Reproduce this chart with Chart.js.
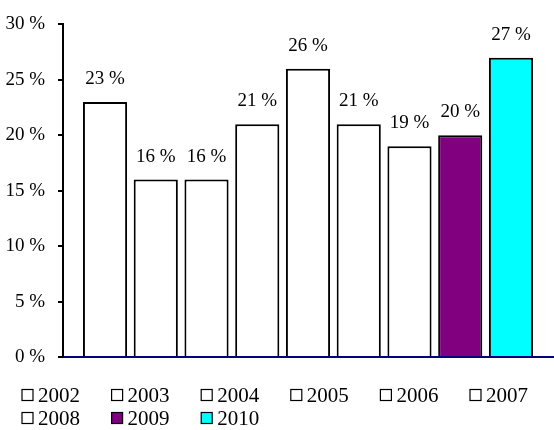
<!DOCTYPE html>
<html>
<head>
<meta charset="utf-8">
<script src="https://cdn.jsdelivr.net/npm/chart.js@4"></script>
<style>
  html, body { margin: 0; padding: 0; background: #fff; }
  #wrap { width: 554px; height: 430px; }
</style>
</head>
<body>
<div id="wrap"><canvas id="barChart" width="554" height="430"></canvas></div>
<script>
// Valores
const years = ['2002', '2003', '2004', '2005', '2006', '2007', '2008', '2009', '2010'];
const values = [23, 16, 16, 21, 26, 21, 19, 20, 27];
const barColors = ['#FFFFFF', '#FFFFFF', '#FFFFFF', '#FFFFFF', '#FFFFFF', '#FFFFFF', '#FFFFFF', '#800080', '#00FFFF'];
const yTicks = [0, 5, 10, 15, 20, 25, 30];

const FONT = '"Liberation Serif", "Times New Roman", serif';

// Rótulos de valor acima das barras
const valueLabels = {
    id: 'valueLabels',
    afterDatasetsDraw(chart) {
        const ctx = chart.ctx;
        ctx.save();
        ctx.font = '19px ' + FONT;
        ctx.fillStyle = '#000';
        ctx.textAlign = 'center';
        ctx.textBaseline = 'middle';
        chart.data.datasets.forEach(function(ds, i) {
            const bar = chart.getDatasetMeta(i).data[0];
            ctx.fillText(ds.data[0] + ' %', bar.x, bar.y - 23);
        });
        ctx.restore();
    }
};

// Legenda em grade, estilo Excel
const gridLegend = {
    id: 'gridLegend',
    afterDraw(chart) {
        const ctx = chart.ctx;
        ctx.save();
        ctx.font = '21px ' + FONT;
        ctx.textBaseline = 'middle';
        ctx.textAlign = 'left';
        chart.data.datasets.forEach(function(ds, i) {
            const col = i % 6;
            const row = Math.floor(i / 6);
            const x = 22 + col * 89.6;
            const y = 395 + row * 23;
            ctx.fillStyle = ds.backgroundColor;
            ctx.fillRect(x, y - 5.5, 11, 11);
            ctx.strokeStyle = '#000';
            ctx.lineWidth = 1.2;
            ctx.strokeRect(x, y - 5.5, 11, 11);
            ctx.fillStyle = '#000';
            ctx.fillText(ds.label, x + 16, y + 1);
        });
        ctx.restore();
    }
};

document.addEventListener('DOMContentLoaded', function() {
    const ctx = document.getElementById('barChart').getContext('2d');
    new Chart(ctx, {
        type: 'bar',
        data: {
            labels: [''],
            datasets: years.map(function(y, i) {
                return {
                    label: y,
                    data: [values[i]],
                    backgroundColor: barColors[i],
                    borderColor: '#000',
                    borderWidth: 2,
                    borderSkipped: 'bottom',
                    barPercentage: 0.87,
                    categoryPercentage: 0.932
                };
            })
        },
        options: {
            responsive: false,
            animation: false,
            layout: {
                padding: { top: 20, right: 1, bottom: 73, left: 0 }
            },
            plugins: {
                legend: { display: false },
                tooltip: { enabled: false }
            },
            scales: {
                x: {
                    ticks: { display: false },
                    grid: { display: false },
                    border: { color: '#000080', width: 2 },
                    afterFit: function(s) { s.height = 0; }
                },
                y: {
                    min: yTicks[0],
                    max: yTicks[yTicks.length - 1],
                    afterBuildTicks: function(s) {
                        s.ticks = yTicks.map(function(v) { return { value: v }; });
                    },
                    afterFit: function(s) { s.width = 63; },
                    ticks: {
                        padding: 13,
                        color: '#000',
                        font: { family: FONT, size: 19 },
                        callback: function(value) {
                            return value + ' %';
                        }
                    },
                    grid: {
                        drawOnChartArea: false,
                        tickLength: 5,
                        color: '#000',
                        lineWidth: 2
                    },
                    border: { color: '#000', width: 2 }
                }
            }
        },
        plugins: [valueLabels, gridLegend]
    });
});
</script>
</body>
</html>
